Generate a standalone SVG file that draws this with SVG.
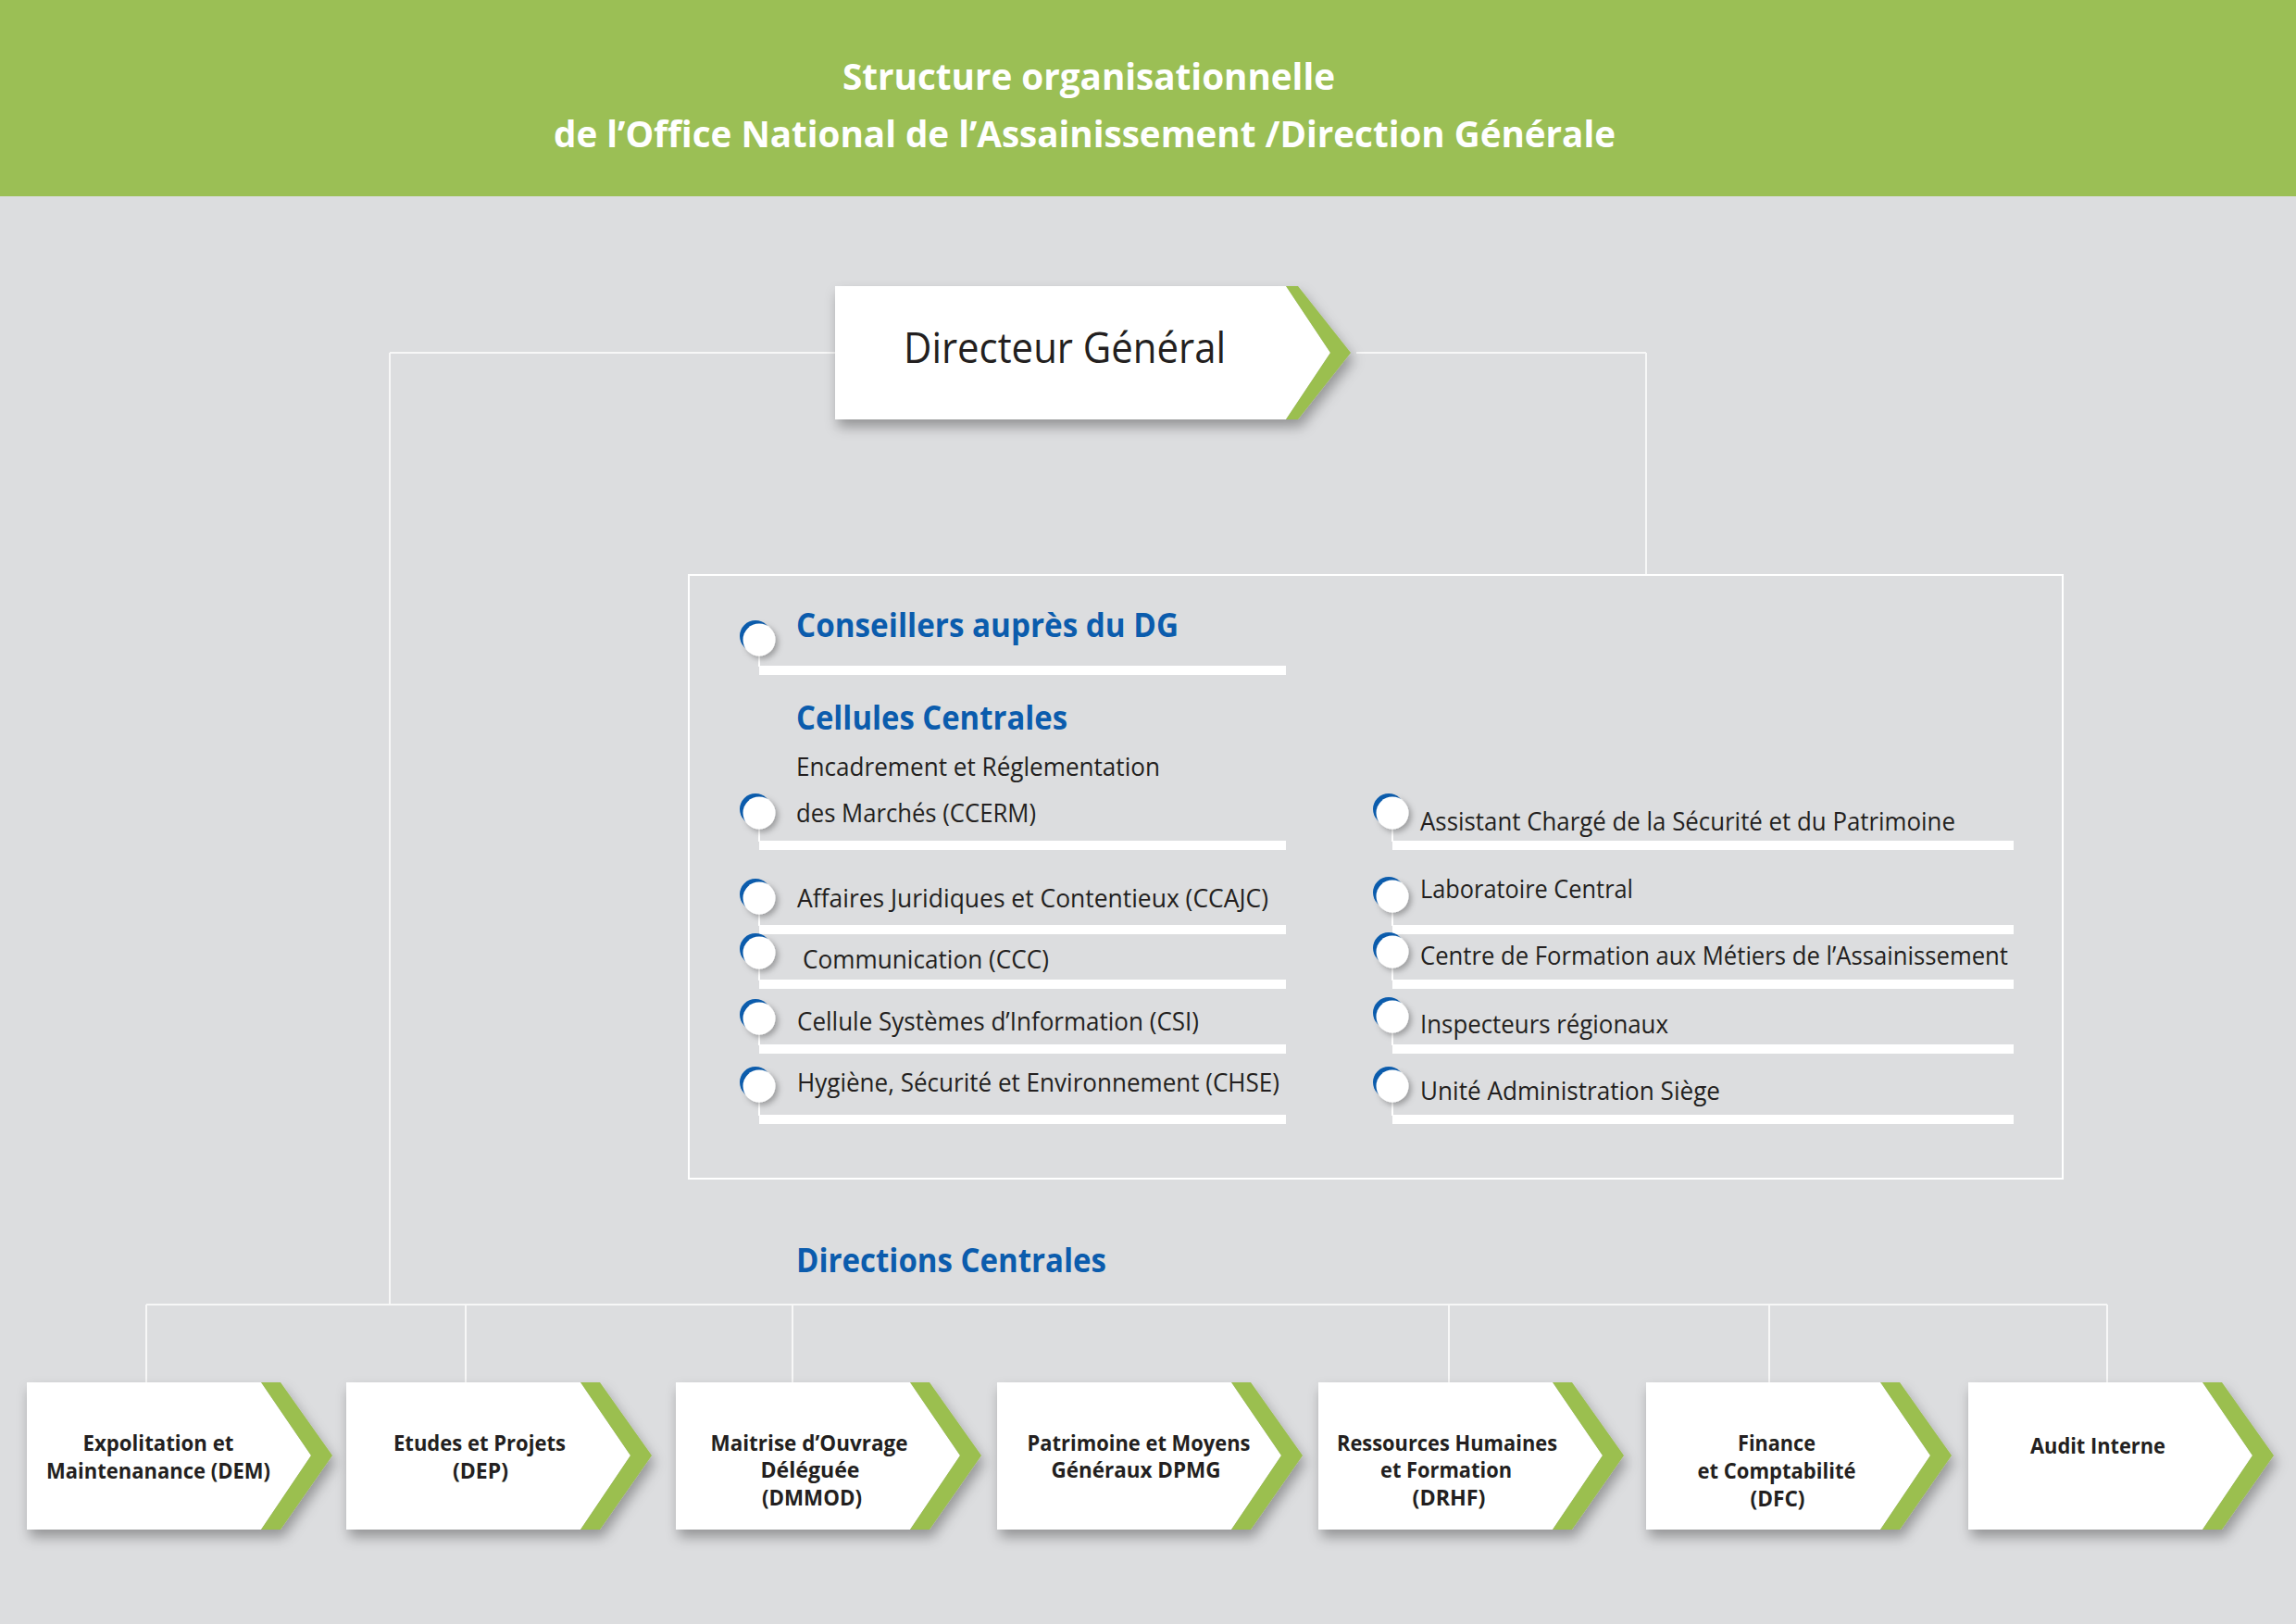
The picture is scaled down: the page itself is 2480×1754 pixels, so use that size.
<svg xmlns="http://www.w3.org/2000/svg" xmlns:xlink="http://www.w3.org/1999/xlink" width="2480" height="1754" viewBox="0 0 2480 1754">
<defs>
<style>
.title{font-family:"Open Sans","Noto Sans","DejaVu Sans",sans-serif;font-weight:700;font-size:40px;fill:#ffffff}
.dg{font-family:"Open Sans","Noto Sans","DejaVu Sans",sans-serif;font-weight:400;font-size:46px;fill:#231f20}
.head{font-family:"Open Sans","Noto Sans","DejaVu Sans",sans-serif;font-weight:700;font-size:35px;fill:#0b5cad}
.item{font-family:"Open Sans","Noto Sans","DejaVu Sans",sans-serif;font-weight:400;font-size:27px;fill:#231f20}
.box{font-family:"Open Sans","Noto Sans","DejaVu Sans",sans-serif;font-weight:700;font-size:23px;fill:#231f20;text-anchor:middle}
.conn{stroke:#f7f7f7;stroke-width:2;fill:none}
.bar{fill:#ffffff}
.stem{stroke:#ffffff;stroke-width:2}
.white{fill:#ffffff}
.green{fill:#9bbf50}
</style>
<filter id="sh" x="-10%" y="-20%" width="130%" height="150%">
<feDropShadow dx="3" dy="8" stdDeviation="7" flood-color="#000000" flood-opacity="0.33"/>
</filter>
<filter id="shc" x="-50%" y="-50%" width="200%" height="200%">
<feDropShadow dx="3" dy="3" stdDeviation="3" flood-color="#000000" flood-opacity="0.3"/>
</filter>
<g id="bullet">
<circle cx="-4" cy="-4" r="17" fill="#0b5cad"/>
<circle cx="0" cy="0" r="17.5" fill="#ffffff" filter="url(#shc)"/>
</g>
<g id="chev">
<polygon class="white" points="0,0 253,0 307,79 253,159 0,159"/>
<polygon class="green" points="253,0 274,0 330,79 274,159 253,159 307,79"/>
</g>
</defs>

<rect x="0" y="0" width="2480" height="1754" fill="#dcdddf"/>

<g id="header">
<rect x="0" y="0" width="2480" height="212" fill="#9bbf55"/>
<text class="title" x="910" y="97" textLength="532" lengthAdjust="spacingAndGlyphs">Structure organisationnelle</text>
<text class="title" x="598" y="159" textLength="1147" lengthAdjust="spacingAndGlyphs">de l’Office National de l’Assainissement /Direction Générale</text>
</g>

<g id="connectors">
<line class="conn" x1="421" y1="381" x2="902" y2="381"/>
<line class="conn" x1="421" y1="381" x2="421" y2="1409"/>
<line class="conn" x1="1465" y1="381" x2="1778" y2="381"/>
<line class="conn" x1="1778" y1="381" x2="1778" y2="621"/>
<line class="conn" x1="158" y1="1409" x2="2276" y2="1409"/>
<line class="conn" x1="158" y1="1409" x2="158" y2="1493"/>
<line class="conn" x1="503" y1="1409" x2="503" y2="1493"/>
<line class="conn" x1="856" y1="1409" x2="856" y2="1493"/>
<line class="conn" x1="1565" y1="1409" x2="1565" y2="1493"/>
<line class="conn" x1="1911" y1="1409" x2="1911" y2="1493"/>
<line class="conn" x1="2276" y1="1409" x2="2276" y2="1493"/>
</g>

<g id="node-dg">
<g filter="url(#sh)">
<polygon class="white" points="902,309 1389,309 1437,381 1389,453 902,453"/>
<polygon class="green" points="1389,309 1402,309 1459,381 1402,453 1389,453 1437,381"/>
</g>
<text class="dg" x="976" y="392" textLength="348" lengthAdjust="spacingAndGlyphs">Directeur Général</text>
</g>

<g id="node-cellules">
<rect x="744" y="621" width="1484" height="652" fill="none" stroke="#ffffff" stroke-width="2"/>
</g>

<g id="node-conseillers">
<line class="stem" x1="820" y1="690" x2="820" y2="720"/>
<rect class="bar" x="820" y="719" width="569" height="10"/>
<use xlink:href="#bullet" href="#bullet" x="820" y="691"/>
<text class="head" x="860" y="688" textLength="413" lengthAdjust="spacingAndGlyphs">Conseillers auprès du DG</text>
</g>

<g id="label-cellules">
<text class="head" x="860" y="788" textLength="293" lengthAdjust="spacingAndGlyphs">Cellules Centrales</text>
</g>

<g id="node-ccerm">
<line class="stem" x1="820" y1="878" x2="820" y2="909"/>
<rect class="bar" x="820" y="908" width="569" height="10"/>
<use xlink:href="#bullet" href="#bullet" x="820" y="878"/>
<text class="item" x="860" y="838" textLength="393" lengthAdjust="spacingAndGlyphs">Encadrement et Réglementation</text>
<text class="item" x="860" y="888" textLength="259" lengthAdjust="spacingAndGlyphs">des Marchés (CCERM)</text>
</g>

<g id="node-ccajc">
<line class="stem" x1="820" y1="970" x2="820" y2="1000"/>
<rect class="bar" x="820" y="999" width="569" height="10"/>
<use xlink:href="#bullet" href="#bullet" x="820" y="970"/>
<text class="item" x="861" y="980" textLength="509" lengthAdjust="spacingAndGlyphs">Affaires Juridiques et Contentieux (CCAJC)</text>
</g>

<g id="node-ccc">
<line class="stem" x1="820" y1="1029" x2="820" y2="1059"/>
<rect class="bar" x="820" y="1058" width="569" height="10"/>
<use xlink:href="#bullet" href="#bullet" x="820" y="1029"/>
<text class="item" x="867" y="1046" textLength="266" lengthAdjust="spacingAndGlyphs">Communication (CCC)</text>
</g>

<g id="node-csi">
<line class="stem" x1="820" y1="1100" x2="820" y2="1129"/>
<rect class="bar" x="820" y="1128" width="569" height="10"/>
<use xlink:href="#bullet" href="#bullet" x="820" y="1100"/>
<text class="item" x="861" y="1113" textLength="434" lengthAdjust="spacingAndGlyphs">Cellule Systèmes d’Information (CSI)</text>
</g>

<g id="node-chse">
<line class="stem" x1="820" y1="1173" x2="820" y2="1205"/>
<rect class="bar" x="820" y="1204" width="569" height="10"/>
<use xlink:href="#bullet" href="#bullet" x="820" y="1173"/>
<text class="item" x="861" y="1179" textLength="521" lengthAdjust="spacingAndGlyphs">Hygiène, Sécurité et Environnement (CHSE)</text>
</g>

<g id="node-assistant">
<line class="stem" x1="1504" y1="878" x2="1504" y2="909"/>
<rect class="bar" x="1504" y="908" width="671" height="10"/>
<use xlink:href="#bullet" href="#bullet" x="1504" y="878"/>
<text class="item" x="1534" y="897" textLength="578" lengthAdjust="spacingAndGlyphs">Assistant Chargé de la Sécurité et du Patrimoine</text>
</g>

<g id="node-labo">
<line class="stem" x1="1504" y1="968" x2="1504" y2="1000"/>
<rect class="bar" x="1504" y="999" width="671" height="10"/>
<use xlink:href="#bullet" href="#bullet" x="1504" y="968"/>
<text class="item" x="1534" y="970" textLength="230" lengthAdjust="spacingAndGlyphs">Laboratoire Central</text>
</g>

<g id="node-centre">
<line class="stem" x1="1504" y1="1028" x2="1504" y2="1059"/>
<rect class="bar" x="1504" y="1058" width="671" height="10"/>
<use xlink:href="#bullet" href="#bullet" x="1504" y="1028"/>
<text class="item" x="1534" y="1042" textLength="635" lengthAdjust="spacingAndGlyphs">Centre de Formation aux Métiers de l’Assainissement</text>
</g>

<g id="node-inspecteurs">
<line class="stem" x1="1504" y1="1098" x2="1504" y2="1129"/>
<rect class="bar" x="1504" y="1128" width="671" height="10"/>
<use xlink:href="#bullet" href="#bullet" x="1504" y="1098"/>
<text class="item" x="1534" y="1116" textLength="268" lengthAdjust="spacingAndGlyphs">Inspecteurs régionaux</text>
</g>

<g id="node-unite">
<line class="stem" x1="1504" y1="1173" x2="1504" y2="1205"/>
<rect class="bar" x="1504" y="1204" width="671" height="10"/>
<use xlink:href="#bullet" href="#bullet" x="1504" y="1173"/>
<text class="item" x="1534" y="1188" textLength="324" lengthAdjust="spacingAndGlyphs">Unité Administration Siège</text>
</g>

<g id="label-directions">
<text class="head" x="860" y="1374" textLength="335" lengthAdjust="spacingAndGlyphs">Directions Centrales</text>
</g>

<g id="node-dem">
<use xlink:href="#chev" href="#chev" x="29" y="1493" filter="url(#sh)"/>
<text class="box" x="171" y="1567" textLength="163" lengthAdjust="spacingAndGlyphs">Expolitation et</text>
<text class="box" x="171" y="1597" textLength="242" lengthAdjust="spacingAndGlyphs">Maintenanance (DEM)</text>
</g>

<g id="node-dep">
<use xlink:href="#chev" href="#chev" x="374" y="1493" filter="url(#sh)"/>
<text class="box" x="518" y="1567" textLength="186" lengthAdjust="spacingAndGlyphs">Etudes et Projets</text>
<text class="box" x="519" y="1597" textLength="60" lengthAdjust="spacingAndGlyphs">(DEP)</text>
</g>

<g id="node-dmmod">
<use xlink:href="#chev" href="#chev" x="730" y="1493" filter="url(#sh)"/>
<text class="box" x="874" y="1567" textLength="213" lengthAdjust="spacingAndGlyphs">Maitrise d’Ouvrage</text>
<text class="box" x="875" y="1596" textLength="107" lengthAdjust="spacingAndGlyphs">Déléguée</text>
<text class="box" x="877" y="1626" textLength="108" lengthAdjust="spacingAndGlyphs">(DMMOD)</text>
</g>

<g id="node-dpmg">
<use xlink:href="#chev" href="#chev" x="1077" y="1493" filter="url(#sh)"/>
<text class="box" x="1230" y="1567" textLength="241" lengthAdjust="spacingAndGlyphs">Patrimoine et Moyens</text>
<text class="box" x="1227" y="1596" textLength="183" lengthAdjust="spacingAndGlyphs">Généraux DPMG</text>
</g>

<g id="node-drhf">
<use xlink:href="#chev" href="#chev" x="1424" y="1493" filter="url(#sh)"/>
<text class="box" x="1563" y="1567" textLength="238" lengthAdjust="spacingAndGlyphs">Ressources Humaines</text>
<text class="box" x="1562" y="1596" textLength="142" lengthAdjust="spacingAndGlyphs">et Formation</text>
<text class="box" x="1565" y="1626" textLength="79" lengthAdjust="spacingAndGlyphs">(DRHF)</text>
</g>

<g id="node-dfc">
<use xlink:href="#chev" href="#chev" x="1778" y="1493" filter="url(#sh)"/>
<text class="box" x="1919" y="1567" textLength="84" lengthAdjust="spacingAndGlyphs">Finance</text>
<text class="box" x="1919" y="1597" textLength="171" lengthAdjust="spacingAndGlyphs">et Comptabilité</text>
<text class="box" x="1920" y="1627" textLength="59" lengthAdjust="spacingAndGlyphs">(DFC)</text>
</g>

<g id="node-audit">
<use xlink:href="#chev" href="#chev" x="2126" y="1493" filter="url(#sh)"/>
<text class="box" x="2266" y="1570" textLength="146" lengthAdjust="spacingAndGlyphs">Audit Interne</text>
</g>
</svg>
